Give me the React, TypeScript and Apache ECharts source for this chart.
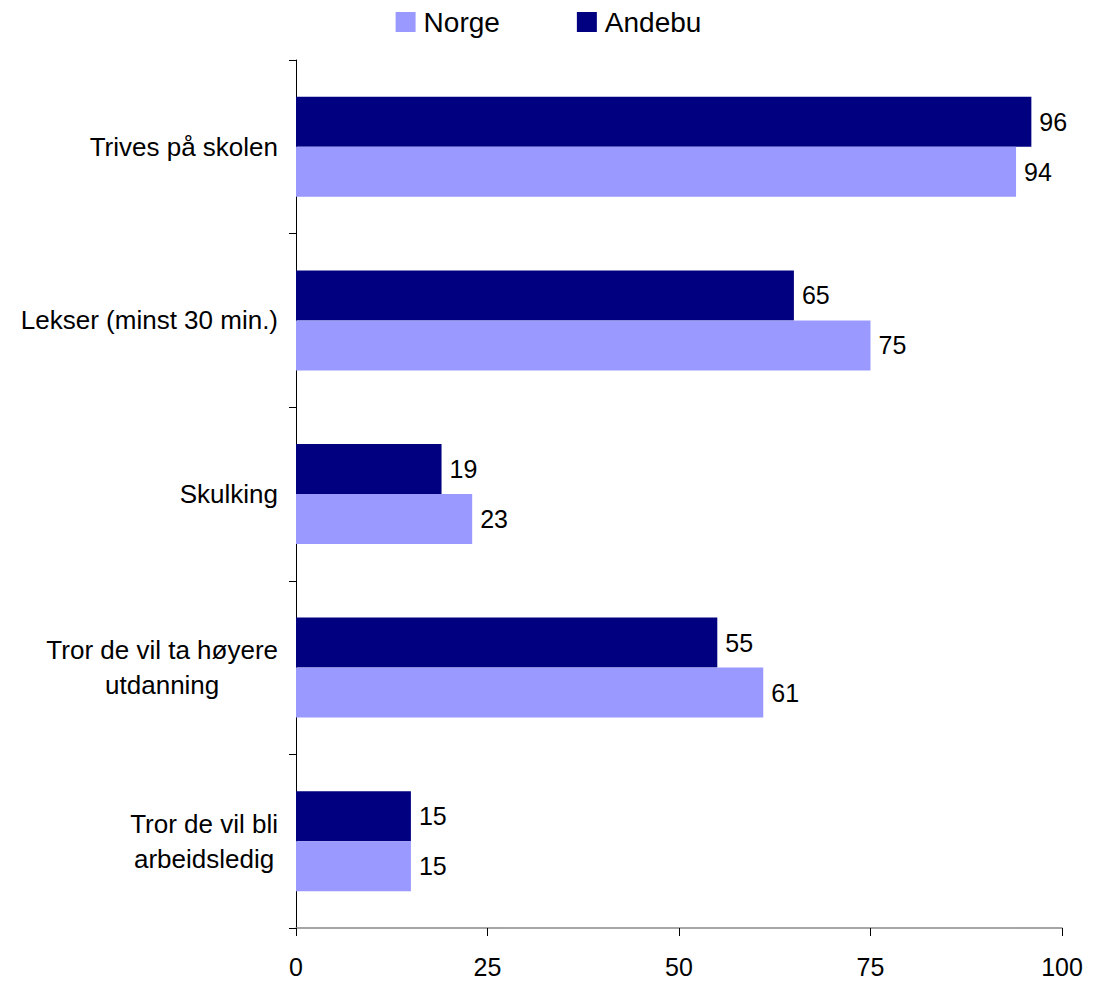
import React, { useEffect, useRef } from "react";
import * as echarts from "echarts";

const categories = [
  "Trives på skolen",
  "Lekser (minst 30 min.)",
  "Skulking",
  "Tror de vil ta høyere\nutdanning",
  "Tror de vil bli\narbeidsledig",
];
const andebu = [96, 65, 19, 55, 15];
const norge = [94, 75, 23, 61, 15];
const xTicks = [0, 25, 50, 75, 100];

const FONT = "Liberation Sans, Arial, sans-serif";

export default function App() {
  const ref = useRef<HTMLDivElement>(null);
  useEffect(() => {
    if (!ref.current) return;
    const chart = echarts.init(ref.current, undefined, { renderer: "svg" });
    const barLabel = {
      show: true,
      position: "right",
      distance: 8,
      fontSize: 25,
      color: "#000",
      fontFamily: FONT,
    };
    chart.setOption({
      animation: false,
      textStyle: { fontFamily: FONT },
      legend: {
        data: ["Norge", "Andebu"],
        top: 3,
        left: "center",
        itemWidth: 20,
        itemHeight: 20,
        itemGap: 77,
        icon: "rect",
        textStyle: { fontSize: 28, color: "#000", fontFamily: FONT, padding: [0, 0, 0, 3] },
      },
      grid: { left: 296, right: 35, top: 60, bottom: 55, containLabel: false },
      xAxis: {
        type: "value",
        min: xTicks[0],
        max: xTicks[xTicks.length - 1],
        interval: 25,
        axisLine: { show: true, lineStyle: { color: "#888", width: 1.5 } },
        axisTick: { show: true, length: 8, lineStyle: { color: "#000" } },
        splitLine: { show: false },
        axisLabel: { fontSize: 25, color: "#000", margin: 26, fontFamily: FONT },
      },
      yAxis: {
        type: "category",
        data: categories,
        inverse: true,
        axisLine: { show: true, lineStyle: { color: "#000", width: 1 } },
        axisTick: { show: true, length: 7, lineStyle: { color: "#000" } },
        axisLabel: {
          fontSize: 26,
          color: "#000",
          margin: 18,
          lineHeight: 35,
          fontFamily: FONT,
          formatter: (v: string) =>
            v
              .split("\n")
              .map((l) => "{c|" + l + "}")
              .join("\n"),
          rich: {
            c: { align: "center", fontSize: 26, lineHeight: 35, color: "#000", fontFamily: FONT },
          },
        },
      },
      series: [
        {
          name: "Andebu",
          type: "bar",
          data: andebu,
          barWidth: 50,
          barGap: "0%",
          itemStyle: { color: "#000080" },
          label: barLabel,
        },
        {
          name: "Norge",
          type: "bar",
          data: norge,
          barWidth: 50,
          barGap: "0%",
          itemStyle: { color: "#9999FF" },
          label: barLabel,
        },
      ],
    });
    return () => chart.dispose();
  }, []);
  return <div ref={ref} style={{ width: 1097, height: 983, position: "absolute", left: 0, top: 0 }} />;
}
